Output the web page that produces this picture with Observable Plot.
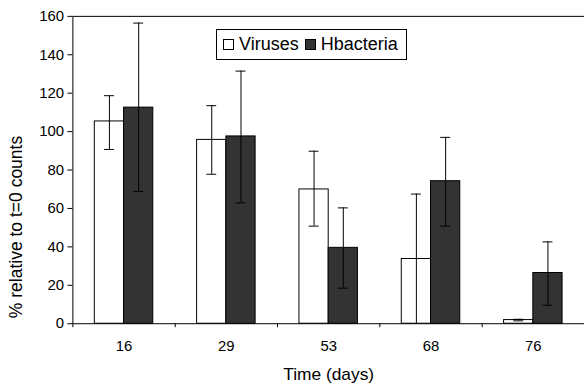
<!DOCTYPE html>
<html>
<head>
<meta charset="utf-8">
<script src="https://cdn.jsdelivr.net/npm/d3@7"></script>
<script src="https://cdn.jsdelivr.net/npm/@observablehq/plot@0.6"></script>
<style>
  html, body { margin: 0; padding: 0; background: #fff; }
  #wrap { position: relative; width: 584px; height: 387px; overflow: hidden; font-family: "Liberation Sans", Arial, sans-serif; }
  #legend { position: absolute; left: 216px; top: 29px; height: 29px; padding: 0 8px 0 6px; border: 1px solid #000; background: #fff;
            display: flex; align-items: center; gap: 6px; font-size: 18px; color: #000; white-space: nowrap; }
  .sw { display: inline-block; width: 9px; height: 9px; border: 1px solid #000; }
  .item { display: flex; align-items: center; gap: 5px; }
  #ytitle { position: absolute; left: 17px; top: 227px; transform: translate(-50%, -50%) rotate(-90deg);
            font-size: 17.5px; line-height: 1; white-space: nowrap; color: #000; }
</style>
</head>
<body>
<div id="wrap"></div>
<script>
const days = ["16", "29", "53", "68", "76"];
const seriesNames = ["Viruses", "Hbacteria"];
const virusesValue = [105.3, 95.7, 69.9, 33.7, 1.9];
const virusesLow   = [90.7, 77.8, 50.8, -2, 1.5];
const virusesHigh  = [118.7, 113.5, 89.8, 67.5, 2.3];
const hbactValue   = [112.5, 97.5, 39.5, 74.2, 26.4];
const hbactLow     = [68.9, 62.9, 18.5, 50.8, 9.6];
const hbactHigh    = [156.5, 131.5, 60.3, 97.0, 42.6];
const yTicks = [0, 20, 40, 60, 80, 100, 120, 140, 160];
const xTitle = "Time (days)";
const yTitle = "% relative to t=0 counts";
const colors = {Viruses: "#ffffff", Hbacteria: "#333333"};

const W = 589, ML = 73, MT = 16, H = 387, MB = 61;
const step = (W - ML) / days.length;
const barW = 29.5 / step;      // bar width in band units
const capW = 5 / step;         // half cap width in band units

const rows = [];
days.forEach((d, i) => {
  rows.push({i, day: d, series: "Viruses", value: virusesValue[i], lo: virusesLow[i], hi: virusesHigh[i],
             x1: i + 0.5 - barW, x2: i + 0.5, c: i + 0.5 - barW / 2});
  rows.push({i, day: d, series: "Hbacteria", value: hbactValue[i], lo: hbactLow[i], hi: hbactHigh[i],
             x1: i + 0.5, x2: i + 0.5 + barW, c: i + 0.5 + barW / 2});
});

const chart = Plot.plot({
  width: W, height: H,
  marginLeft: ML, marginRight: 0, marginTop: MT, marginBottom: MB,
  style: {fontFamily: "Liberation Sans, Arial, sans-serif", background: "#fff", color: "#000", overflow: "visible"},
  x: {domain: [0, days.length], axis: null},
  y: {domain: [0, 160], axis: null},
  marks: [
    Plot.rectY(rows, {x1: "x1", x2: "x2", y1: 0, y2: "value", fill: d => colors[d.series], stroke: "#000", strokeWidth: 1}),
    Plot.ruleX(rows, {x: "c", y1: "lo", y2: "hi", stroke: "#000", strokeWidth: 1, clip: true}),
    Plot.ruleY(rows, {y: "hi", x1: d => d.c - capW, x2: d => d.c + capW, stroke: "#000", strokeWidth: 1, clip: true}),
    Plot.ruleY(rows, {y: "lo", x1: d => d.c - capW, x2: d => d.c + capW, stroke: "#000", strokeWidth: 1, clip: true}),
    Plot.frame({stroke: "#000", strokeWidth: 1}),
    Plot.axisY(yTicks, {tickSize: 5, tickPadding: 4, fontSize: 15, label: null}),
    Plot.axisX(d3.range(days.length + 1), {tickSize: 4, tickFormat: () => "", label: null}),
    Plot.axisX(d3.range(days.length).map(i => i + 0.5), {tickSize: 0, tickPadding: 17, fontSize: 15,
      tickFormat: v => days[Math.floor(v)], label: null}),
    Plot.text([xTitle], {frameAnchor: "bottom", dy: 51, fontSize: 17.5, lineAnchor: "middle"})
  ]
});

const wrap = document.getElementById("wrap");
wrap.appendChild(chart);
const yt = document.createElement("div");
yt.id = "ytitle";
yt.textContent = yTitle;
wrap.appendChild(yt);
const legend = document.createElement("div");
legend.id = "legend";
seriesNames.forEach(s => {
  const item = document.createElement("span");
  item.className = "item";
  const sw = document.createElement("span");
  sw.className = "sw";
  sw.style.background = colors[s];
  const t = document.createElement("span");
  t.textContent = s;
  item.appendChild(sw); item.appendChild(t);
  legend.appendChild(item);
});
wrap.appendChild(legend);
</script>
</body>
</html>
